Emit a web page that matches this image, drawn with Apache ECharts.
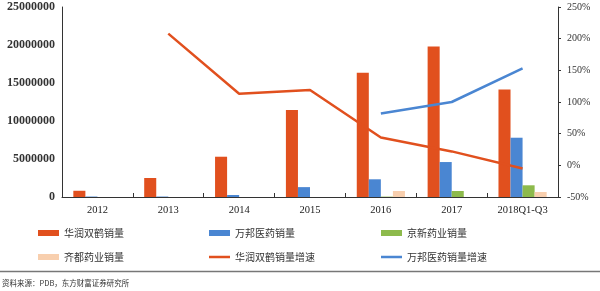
<!DOCTYPE html>
<html><head><meta charset="utf-8">
<script src="https://cdn.jsdelivr.net/npm/echarts@6/dist/echarts.min.js"></script>
<style>html,body{margin:0;padding:0;background:#fff}#c{width:600px;height:291px}</style>
</head><body><div id="c"></div>
<script>
const categories = ['2012','2013','2014','2015','2016','2017','2018Q1-Q3'];
const huarunSales = [820000, 2500000, 5300000, 11450000, 16350000, 19800000, 14150000];
const wanbangSales = [60000, 60000, 260000, 1300000, 2330000, 4600000, 7800000];
const jingxinSales = [null, null, null, null, 50000, 790000, 1540000];
const qiduSales = [null, null, null, null, 790000, null, 660000];
const huarunGrowth = [null, 208, 113, 119, 44, 22, -5];
const wanbangGrowth = [null, null, null, null, 82, 100, 153];
const leftTicks = {min: 0, max: 25000000, interval: 5000000};
const rightTicks = {min: -50, max: 250, interval: 50};

const C_OR = '#E1501E', C_BL = '#4A86D2', C_GR = '#8DBA4C', C_PE = '#F8CFAE';
const serif = '"Liberation Serif","DejaVu Serif",serif';
const cjk = '"Noto Sans CJK SC","Noto Sans",sans-serif';

const chart = echarts.init(document.getElementById('c'));
function lg(name, left, top, h) {
  return {left:left, top:top, itemWidth:21, itemHeight:h, icon:'rect', data:[name], selectedMode:false,
    textStyle:{fontFamily:cjk, fontSize:10, color:'#333'}};
}
chart.setOption({
  animation:false,
  grid:{left:62, right:42, top:7, bottom:94},
  legend:[
    lg('华润双鹤销量', 33, 223, 6), lg('齐都药业销量', 33, 247, 6),
    lg('万邦医药销量', 204, 223, 6), lg('华润双鹤销量增速', 204, 247, 2.5),
    lg('京新药业销量', 376, 223, 6), lg('万邦医药销量增速', 376, 247, 2.5)
  ],
  xAxis:{type:'category', data:categories,
    axisLine:{lineStyle:{color:'#333', width:1}},
    axisTick:{show:true, inside:true, length:4, lineStyle:{color:'#333'}},
    axisLabel:{fontFamily:serif, fontSize:10.5, color:'#222', margin:8}},
  yAxis:[
    {type:'value', min:leftTicks.min, max:leftTicks.max, interval:leftTicks.interval,
      axisLine:{show:true, lineStyle:{color:'#333'}}, axisTick:{show:false}, splitLine:{show:false},
      axisLabel:{fontFamily:serif, fontSize:12, fontWeight:'bold', color:'#333', margin:7,
        formatter:function(v){return String(v);}}},
    {type:'value', min:rightTicks.min, max:rightTicks.max, interval:rightTicks.interval,
      axisLine:{show:true, lineStyle:{color:'#333'}}, axisTick:{show:true, length:3, lineStyle:{color:'#333'}}, splitLine:{show:false},
      axisLabel:{fontFamily:serif, fontSize:10, color:'#333', margin:9, formatter:'{value}%'}}
  ],
  series:[
    {name:'华润双鹤销量', type:'bar', data:huarunSales, itemStyle:{color:C_OR}, barGap:'0%', barCategoryGap:'32%'},
    {name:'万邦医药销量', type:'bar', data:wanbangSales, itemStyle:{color:C_BL}},
    {name:'京新药业销量', type:'bar', data:jingxinSales, itemStyle:{color:C_GR}},
    {name:'齐都药业销量', type:'bar', data:qiduSales, itemStyle:{color:C_PE}},
    {name:'华润双鹤销量增速', type:'line', yAxisIndex:1, data:huarunGrowth, symbol:'none',
      lineStyle:{color:C_OR, width:2.5}, itemStyle:{color:C_OR}},
    {name:'万邦医药销量增速', type:'line', yAxisIndex:1, data:wanbangGrowth, symbol:'none',
      lineStyle:{color:C_BL, width:2.5}, itemStyle:{color:C_BL}}
  ],
  graphic:[
    {type:'line', shape:{x1:0, y1:271.5, x2:600, y2:271.5}, style:{stroke:'#777', lineWidth:1.5}},
    {type:'text', left:2, top:279, style:{text:'资料来源：PDB，东方财富证券研究所', fontFamily:cjk, fontSize:7.5, fill:'#333'}}
  ]
});
</script></body></html>
